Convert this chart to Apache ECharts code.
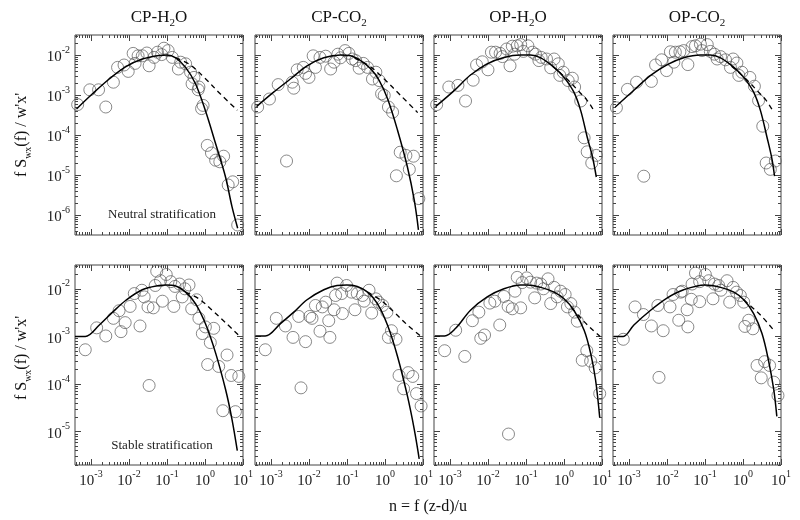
<!DOCTYPE html>
<html>
<head>
<meta charset="utf-8">
<script src="https://cdn.jsdelivr.net/npm/echarts@6/dist/echarts.min.js"></script>
<style>
  html, body { margin: 0; padding: 0; background: #fff; }
  #chart { width: 800px; height: 520px; }
</style>
</head>
<body>
<div id="chart"></div>
<script>
// column titles (rich text, subscript 2)
var panelNames = ['{m|CP-H}{sub|2}{m|O}', '{m|CP-CO}{sub|2}', '{m|OP-H}{sub|2}{m|O}', '{m|OP-CO}{sub|2}'];
var rowNotes = ['Neutral stratification', 'Stable stratification'];

// decade ticks, in log10 units
var xTicks = [-3, -2, -1, 0, 1];
var yTicksTop = [-6, -5, -4, -3, -2];
var yTicksBottom = [-5, -4, -3, -2];

// every pair is [log10 n, log10 fS/w'x']
var cpH2oNeutral = [[-3.35,-3.24],[-3.03,-2.87],[-2.80,-2.87],[-2.61,-3.30],[-2.41,-2.68],[-2.30,-2.31],[-2.13,-2.25],[-2.02,-2.41],[-1.89,-1.96],[-1.76,-2.02],[-1.84,-2.21],[-1.65,-2.02],[-1.53,-1.95],[-1.47,-2.27],[-1.34,-2.06],[-1.25,-1.93],[-1.14,-1.99],[-1.08,-1.83],[-0.97,-1.89],[-0.86,-2.06],[-0.70,-2.35],[-0.64,-2.18],[-0.51,-2.22],[-0.38,-2.43],[-0.29,-2.56],[-0.34,-2.72],[-0.18,-2.87],[-0.16,-2.80],[-0.09,-3.34],[-0.05,-3.26],[0.06,-4.26],[0.17,-4.45],[0.28,-4.63],[0.39,-4.67],[0.49,-4.53],[0.61,-5.25],[0.73,-5.17],[0.86,-6.25]];
var cpH2oNeutralFit = [[-3.38,-3.35],[-2.96,-2.97],[-2.52,-2.60],[-2.08,-2.29],[-1.65,-2.10],[-1.21,-2.01],[-1.0,-2.0],[-0.77,-2.07],[-0.51,-2.31],[-0.25,-2.72],[0.01,-3.39],[0.28,-4.22],[0.54,-5.05],[0.71,-5.79],[0.86,-6.33]];
var cpH2oNeutralTail = [[-0.77,-2.07],[-0.4,-2.24],[0.0,-2.58],[0.4,-2.97],[0.85,-3.38]];

var cpCo2Neutral = [[-3.35,-3.30],[-3.04,-3.10],[-2.81,-2.74],[-2.44,-2.68],[-2.40,-2.83],[-2.31,-2.37],[-2.15,-2.31],[-2.09,-2.46],[-2.00,-2.56],[-1.89,-2.02],[-1.83,-2.31],[-1.71,-2.06],[-1.56,-2.03],[-1.43,-2.35],[-1.34,-2.18],[-1.24,-1.98],[-1.17,-2.07],[-1.05,-1.89],[-0.95,-1.96],[-0.86,-2.10],[-0.77,-2.14],[-0.68,-2.33],[-0.57,-2.21],[-0.46,-2.31],[-0.33,-2.60],[-0.24,-2.43],[-0.15,-2.64],[-0.09,-2.97],[-0.02,-3.01],[0.09,-3.30],[0.20,-3.43],[-2.59,-4.65],[0.40,-4.43],[0.55,-4.51],[0.75,-4.53],[0.30,-5.02],[0.64,-4.86],[0.89,-5.59]];
var cpCo2NeutralFit = [[-3.38,-3.29],[-2.93,-2.93],[-2.49,-2.60],[-2.05,-2.27],[-1.61,-2.07],[-1.17,-2.0],[-0.90,-2.02],[-0.64,-2.14],[-0.37,-2.35],[-0.15,-2.64],[0.07,-3.10],[0.33,-3.88],[0.59,-4.80],[0.77,-5.63],[0.88,-6.37]];
var cpCo2NeutralTail = [[-0.80,-2.08],[-0.4,-2.28],[0.0,-2.62],[0.4,-3.0],[0.86,-3.44]];

var opH2oNeutral = [[-3.35,-3.24],[-3.03,-2.80],[-2.79,-2.76],[-2.59,-3.15],[-2.39,-2.63],[-2.30,-2.25],[-2.15,-2.17],[-2.00,-2.37],[-1.91,-1.93],[-1.80,-1.93],[-1.68,-1.96],[-1.62,-2.04],[-1.51,-1.85],[-1.42,-2.27],[-1.36,-1.78],[-1.30,-1.98],[-1.23,-1.77],[-1.14,-1.74],[-1.07,-1.91],[-0.95,-1.77],[-0.83,-1.93],[-0.75,-1.98],[-0.66,-2.14],[-0.60,-2.06],[-0.46,-2.10],[-0.35,-2.32],[-0.26,-2.10],[-0.15,-2.22],[-0.11,-2.51],[-0.02,-2.43],[0.11,-2.64],[0.22,-2.58],[0.28,-2.80],[0.44,-3.15],[0.53,-4.07],[0.61,-4.42],[0.73,-4.70],[0.85,-4.51]];
var opH2oNeutralFit = [[-3.38,-3.29],[-2.89,-2.89],[-2.46,-2.50],[-2.02,-2.22],[-1.58,-2.06],[-1.14,-2.0],[-0.88,-2.0],[-0.61,-2.07],[-0.26,-2.31],[0.0,-2.56],[0.26,-2.93],[0.44,-3.39],[0.61,-4.05],[0.75,-4.55],[0.85,-5.05]];
var opH2oNeutralTail = [[-0.3,-2.28],[0.1,-2.62],[0.4,-2.92],[0.6,-3.12],[0.78,-3.38]];

var opCo2Neutral = [[-3.33,-3.32],[-3.04,-2.86],[-2.80,-2.68],[-2.41,-2.66],[-2.61,-5.03],[-2.30,-2.25],[-2.14,-2.12],[-2.01,-2.39],[-1.91,-1.92],[-1.82,-2.18],[-1.78,-1.93],[-1.66,-1.92],[-1.56,-1.89],[-1.45,-2.24],[-1.34,-1.79],[-1.25,-1.77],[-1.12,-1.73],[-1.08,-1.89],[-0.94,-1.74],[-0.86,-1.91],[-0.75,-1.98],[-0.68,-2.10],[-0.59,-2.04],[-0.46,-2.12],[-0.33,-2.31],[-0.26,-2.10],[-0.16,-2.20],[-0.11,-2.51],[-0.03,-2.43],[0.18,-2.56],[0.30,-2.78],[0.41,-3.14],[0.52,-3.78],[0.61,-4.70],[0.72,-4.86],[0.85,-4.65]];
var opCo2NeutralFit = [[-3.36,-3.30],[-2.87,-2.88],[-2.43,-2.51],[-1.99,-2.24],[-1.56,-2.07],[-1.12,-2.0],[-0.86,-2.0],[-0.59,-2.07],[-0.24,-2.31],[0.02,-2.56],[0.28,-2.93],[0.46,-3.39],[0.63,-4.05],[0.76,-4.59],[0.83,-5.03]];
var opCo2NeutralTail = [[-0.3,-2.28],[0.1,-2.62],[0.4,-2.92],[0.6,-3.12],[0.8,-3.42]];

var cpH2oStable = [[-3.15,-3.28],[-2.85,-2.82],[-2.61,-2.99],[-2.41,-2.62],[-2.26,-2.46],[-2.21,-2.90],[-2.10,-2.71],[-1.97,-2.37],[-1.86,-2.10],[-1.71,-2.78],[-1.66,-2.03],[-1.60,-2.17],[-1.50,-2.38],[-1.36,-2.40],[-1.47,-4.03],[-1.31,-1.93],[-1.27,-1.63],[-1.17,-1.83],[-1.12,-2.26],[-1.02,-1.70],[-0.90,-1.85],[-0.82,-2.37],[-0.79,-1.95],[-0.67,-1.90],[-0.60,-2.17],[-0.53,-2.00],[-0.42,-1.92],[-0.35,-2.42],[-0.22,-2.23],[-0.16,-2.62],[-0.07,-2.94],[0.01,-2.80],[0.14,-3.13],[0.23,-2.83],[0.07,-3.59],[0.36,-3.63],[0.58,-3.39],[0.47,-4.56],[0.69,-3.82],[0.80,-4.58],[0.89,-3.84]];
var cpH2oStableFit = [[-3.42,-3.0],[-3.15,-3.0],[-2.78,-2.76],[-2.43,-2.49],[-2.08,-2.24],[-1.65,-2.02],[-1.21,-1.93],[-1.02,-1.92],[-0.77,-1.94],[-0.51,-2.07],[-0.25,-2.31],[0.01,-2.73],[0.28,-3.35],[0.54,-4.11],[0.71,-4.74],[0.85,-5.40]];
var cpH2oStableTail = [[-0.51,-2.07],[-0.16,-2.21],[0.19,-2.45],[0.54,-2.71],[0.92,-3.0]];

var cpCo2Stable = [[-3.15,-3.28],[-2.86,-2.62],[-2.62,-2.78],[-2.42,-3.02],[-2.27,-2.58],[-2.09,-3.11],[-1.98,-2.58],[-1.92,-2.62],[-1.83,-2.35],[-1.71,-2.89],[-1.65,-2.38],[-1.56,-2.28],[-1.48,-2.67],[-1.45,-3.02],[-1.34,-2.44],[-2.21,-4.08],[-1.26,-1.88],[-1.30,-2.14],[-1.12,-2.52],[-1.14,-2.10],[-1.01,-1.93],[-0.88,-2.07],[-0.79,-2.44],[-0.73,-2.10],[-0.59,-2.14],[-0.55,-2.26],[-0.42,-2.03],[-0.35,-2.51],[-0.24,-2.21],[-0.17,-2.28],[-0.06,-2.35],[0.05,-2.49],[0.09,-3.02],[0.17,-2.88],[0.29,-3.06],[0.37,-3.82],[0.49,-4.10],[0.61,-3.76],[0.73,-3.84],[0.83,-4.20],[0.95,-4.46]];
var cpCo2StableFit = [[-3.41,-2.99],[-3.15,-2.99],[-2.75,-2.73],[-2.40,-2.49],[-2.05,-2.23],[-1.61,-2.02],[-1.26,-1.93],[-1.01,-1.92],[-0.73,-1.95],[-0.46,-2.07],[-0.20,-2.31],[0.07,-2.77],[0.33,-3.42],[0.59,-4.25],[0.77,-4.95],[0.90,-5.57]];
var cpCo2StableTail = [[-0.46,-2.07],[-0.11,-2.24],[0.24,-2.49],[0.59,-2.76],[0.92,-2.98]];

var opH2oStable = [[-3.14,-3.30],[-2.85,-2.87],[-2.61,-3.42],[-2.41,-2.67],[-2.24,-2.49],[-2.19,-3.04],[-2.09,-2.97],[-1.95,-2.30],[-1.82,-2.26],[-1.69,-2.76],[-1.58,-2.16],[-1.47,-2.37],[-1.36,-2.42],[-1.29,-2.05],[-1.23,-1.76],[-1.14,-2.40],[-1.10,-1.87],[-0.98,-1.77],[-0.88,-1.86],[-0.77,-2.19],[-0.72,-1.88],[-0.61,-1.90],[-0.54,-2.00],[-0.42,-1.79],[-0.35,-2.31],[-0.26,-1.97],[-0.18,-2.17],[-0.09,-2.05],[0.03,-2.12],[0.09,-2.38],[0.18,-2.31],[0.28,-2.49],[0.35,-2.68],[0.48,-3.50],[0.60,-3.30],[0.70,-3.52],[0.82,-3.66],[0.94,-4.20],[-1.46,-5.05]];
var opH2oStableFit = [[-3.40,-2.99],[-3.14,-2.99],[-2.85,-2.83],[-2.46,-2.45],[-2.02,-2.17],[-1.58,-2.0],[-1.14,-1.92],[-0.96,-1.92],[-0.61,-1.97],[-0.26,-2.07],[0.0,-2.21],[0.26,-2.45],[0.53,-2.87],[0.70,-3.35],[0.83,-3.91],[0.94,-4.70]];
var opH2oStableTail = [[0.2,-2.40],[0.53,-2.69],[0.75,-2.86],[0.95,-3.0]];

var opCo2Stable = [[-3.15,-3.06],[-2.84,-2.38],[-2.62,-2.54],[-2.41,-2.78],[-2.24,-2.35],[-2.10,-2.88],[-1.92,-2.38],[-1.84,-2.12],[-1.69,-2.66],[-1.64,-2.07],[-1.60,-2.05],[-1.47,-2.44],[-1.45,-2.80],[-1.36,-2.22],[-1.34,-1.90],[-1.25,-1.67],[-1.14,-2.27],[-1.14,-1.85],[-0.99,-1.70],[-0.90,-1.83],[-0.79,-2.21],[-0.75,-1.90],[-0.64,-1.93],[-0.58,-2.03],[-0.42,-1.83],[-0.35,-2.28],[-0.26,-1.97],[-0.17,-2.07],[-0.07,-2.14],[0.02,-2.28],[0.15,-2.66],[0.26,-2.84],[0.05,-2.79],[0.37,-3.61],[0.48,-3.87],[0.57,-3.53],[0.70,-3.61],[0.81,-3.96],[0.92,-4.24],[-2.21,-3.86]];
var opCo2StableFit = [[-3.40,-3.0],[-3.15,-3.0],[-2.87,-2.76],[-2.43,-2.45],[-1.99,-2.19],[-1.56,-2.02],[-1.0,-1.92],[-0.59,-1.97],[-0.24,-2.07],[0.02,-2.23],[0.28,-2.52],[0.50,-2.94],[0.67,-3.50],[0.81,-4.12],[0.89,-4.68]];
var opCo2StableTail = [[0.02,-2.23],[0.2,-2.36],[0.46,-2.55],[0.82,-2.88]];

var panels = [
    [cpH2oNeutral, cpH2oNeutralFit, cpH2oNeutralTail],
    [cpCo2Neutral, cpCo2NeutralFit, cpCo2NeutralTail],
    [opH2oNeutral, opH2oNeutralFit, opH2oNeutralTail],
    [opCo2Neutral, opCo2NeutralFit, opCo2NeutralTail],
    [cpH2oStable, cpH2oStableFit, cpH2oStableTail],
    [cpCo2Stable, cpCo2StableFit, cpCo2StableTail],
    [opH2oStable, opH2oStableFit, opH2oStableTail],
    [opCo2Stable, opCo2StableFit, opCo2StableTail]
];

var colLeft = [75, 255, 434, 613];
var rowTop = [35, 265];
var panelW = 168, panelH = 200;
var xRange = [-3.42, 1.0];
var yRanges = [[-6.5, -1.5], [-5.7, -1.5]];
var serif = 'Liberation Serif';

// 2..9 times each decade, as log10 positions
function minorTicks(r) {
    var out = [];
    for (var d = Math.floor(r[0]); d < r[1]; d++) {
        for (var k = 2; k <= 9; k++) {
            var v = d + Math.log10(k);
            if (v > r[0] && v < r[1]) out.push(v);
        }
    }
    return out;
}

function powLabel(v) {
    return '{b|10}{s|' + Math.round(v) + '}';
}

function makeAxis(gi, pos, range, ticks, len, labels) {
    return {
        type: 'value',
        gridIndex: gi,
        position: pos,
        min: range[0],
        max: range[1],
        axisLine: { show: false, onZero: false },
        splitLine: { show: false },
        axisTick: {
            show: true, inside: true, length: len, customValues: ticks,
            lineStyle: { color: '#444', width: 1 }
        },
        axisLabel: labels ? {
            show: true,
            customValues: labels,
            margin: (pos === 'left') ? 5 : 4,
            formatter: powLabel,
            rich: {
                b: { fontFamily: serif, fontSize: 15, color: '#222', lineHeight: 20, verticalAlign: 'bottom' },
                s: { fontFamily: serif, fontSize: 10, color: '#222', lineHeight: 10, verticalAlign: 'top' }
            }
        } : { show: false }
    };
}

var grids = [], xAxes = [], yAxes = [], series = [];

panels.forEach(function (p, i) {
    var row = Math.floor(i / 4), col = i % 4;
    var yr = yRanges[row];
    var yt = row === 0 ? yTicksTop : yTicksBottom;
    grids.push({
        left: colLeft[col], top: rowTop[row], width: panelW, height: panelH,
        show: true, borderColor: '#444', borderWidth: 1, backgroundColor: 'transparent'
    });
    var xi = xAxes.length, yi = yAxes.length;
    xAxes.push(makeAxis(i, 'bottom', xRange, xTicks, 6, row === 1 ? xTicks : null));
    xAxes.push(makeAxis(i, 'bottom', xRange, minorTicks(xRange), 3, null));
    xAxes.push(makeAxis(i, 'top', xRange, xTicks, 6, null));
    xAxes.push(makeAxis(i, 'top', xRange, minorTicks(xRange), 3, null));
    yAxes.push(makeAxis(i, 'left', yr, yt, 6, col === 0 ? yt : null));
    yAxes.push(makeAxis(i, 'left', yr, minorTicks(yr), 3, null));
    yAxes.push(makeAxis(i, 'right', yr, yt, 6, null));
    yAxes.push(makeAxis(i, 'right', yr, minorTicks(yr), 3, null));

    series.push({
        type: 'scatter', xAxisIndex: xi, yAxisIndex: yi, data: p[0],
        symbol: 'circle', symbolSize: 12, silent: true,
        itemStyle: { color: 'transparent', borderColor: '#5a5a5a', borderWidth: 0.9 }
    });
    series.push({
        type: 'line', xAxisIndex: xi, yAxisIndex: yi, data: p[1],
        showSymbol: false, smooth: 0.35, silent: true,
        lineStyle: { color: '#000', width: 1.5 }
    });
    series.push({
        type: 'line', xAxisIndex: xi, yAxisIndex: yi, data: p[2],
        showSymbol: false, smooth: 0.35, silent: true,
        lineStyle: { color: '#000', width: 1.3, type: [5, 4] }
    });
});

var graphics = [];
panelNames.forEach(function (t, c) {
    graphics.push({
        type: 'text', x: colLeft[c] + panelW / 2, y: 18,
        style: {
            text: t, align: 'center', verticalAlign: 'middle', fill: '#111',
            rich: {
                m: { fontFamily: serif, fontSize: 17, lineHeight: 22, verticalAlign: 'middle', fill: '#111' },
                sub: { fontFamily: serif, fontSize: 11, lineHeight: 10, verticalAlign: 'bottom', fill: '#111' }
            }
        }
    });
});
[135, 358].forEach(function (cy) {
    graphics.push({
        type: 'text', x: 22, y: cy, rotation: Math.PI / 2,
        style: {
            text: "{m|f S}{sub|wx}{m|(f) / w'x'}", align: 'center', verticalAlign: 'middle',
            rich: {
                m: { fontFamily: serif, fontSize: 16, lineHeight: 22, verticalAlign: 'middle', fill: '#111' },
                sub: { fontFamily: serif, fontSize: 10, lineHeight: 10, verticalAlign: 'bottom', fill: '#111' }
            }
        }
    });
});
graphics.push({
    type: 'text', x: 162, y: 215,
    style: { text: rowNotes[0], align: 'center', verticalAlign: 'middle', fontFamily: serif, fontSize: 13, fill: '#222' }
});
graphics.push({
    type: 'text', x: 162, y: 446,
    style: { text: rowNotes[1], align: 'center', verticalAlign: 'middle', fontFamily: serif, fontSize: 13, fill: '#222' }
});
graphics.push({
    type: 'text', x: 428, y: 507,
    style: { text: 'n = f (z-d)/u', align: 'center', verticalAlign: 'middle', fontFamily: serif, fontSize: 16, fill: '#111' }
});

var chart = echarts.init(document.getElementById('chart'));
chart.setOption({
    animation: false,
    backgroundColor: '#fff',
    grid: grids,
    xAxis: xAxes,
    yAxis: yAxes,
    series: series,
    graphic: graphics
});
</script>
</body>
</html>
